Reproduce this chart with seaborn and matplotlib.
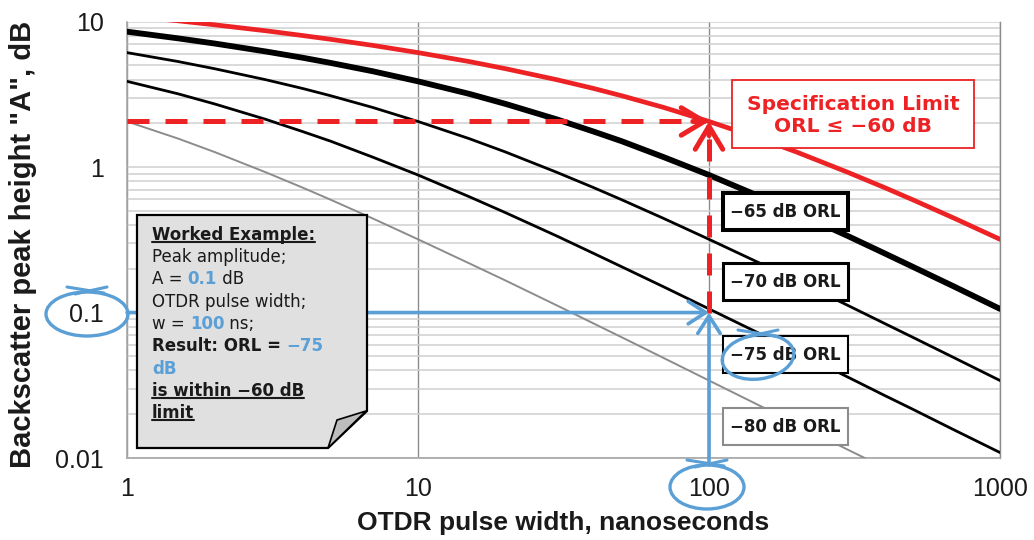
import numpy as np
import matplotlib
matplotlib.use("Agg")
import matplotlib.pyplot as plt
import matplotlib.ticker as mtick
import matplotlib.transforms as mtrans
from matplotlib.patches import Rectangle, Polygon, Ellipse
from matplotlib.lines import Line2D
import seaborn as sns

# ── Data ────────────────────────────────────────────────────
pulse_ns = [1, 1.5, 2, 3, 4, 5, 7, 10, 15, 20, 30, 40, 50, 70,
            100, 150, 200, 300, 400, 500, 700, 1000]
spec_60 = [11.0, 10.14, 9.52, 8.66, 8.04, 7.57, 6.87, 6.13, 5.32, 4.75, 3.99, 3.48, 3.10, 2.57,
           2.06, 1.57, 1.27, 0.921, 0.725, 0.598, 0.443, 0.319]
orl_65 = [8.54, 7.68, 7.08, 6.24, 5.66, 5.21, 4.56, 3.89, 3.19, 2.72, 2.13, 1.76, 1.51, 1.17,
          0.883, 0.626, 0.486, 0.336, 0.256, 0.207, 0.150, 0.106]
orl_70 = [6.13, 5.32, 4.75, 3.99, 3.48, 3.10, 2.57, 2.06, 1.57, 1.27, 0.921, 0.725, 0.598, 0.443,
          0.319, 0.218, 0.166, 0.112, 0.0844, 0.0678, 0.0486, 0.0341]
orl_75 = [3.89, 3.19, 2.72, 2.13, 1.76, 1.51, 1.17, 0.883, 0.626, 0.486, 0.336, 0.256, 0.207, 0.150,
          0.106, 0.0714, 0.0538, 0.0360, 0.0270, 0.0217, 0.0155, 0.0109]
orl_80 = [2.06, 1.57, 1.27, 0.921, 0.725, 0.598, 0.443, 0.319, 0.218, 0.166, 0.112, 0.0844, 0.0678, 0.0486,
          0.0341, 0.0228, 0.0171, 0.0114, 0.0086, 0.0069, 0.0049, 0.0034]

x_ticks = [1, 10, 100, 1000]
x_tick_labels = ['1', '10', '100', '1000']
y_ticks = [0.01, 0.1, 1, 10]
y_tick_labels = ['0.01', '0.1', '1', '10']

worked_w = 100      # ns
worked_A = 0.1      # dB
spec_at_w = 2.06    # red curve height at 100 ns

RED = '#ED2224'
BLUE = '#5A9FD6'
GRAY = '#8c8c8c'
INK = '#1a1a1a'

sns.set_style('white')
plt.rcParams['font.family'] = ['Liberation Sans', 'DejaVu Sans']

W, H = 1034, 540
fig = plt.figure(figsize=(W / 100, H / 100), dpi=100)
ax = fig.add_axes([127 / W, 1 - 458 / H, 873 / W, (458 - 21.7) / H])
ax.set(xscale='log', yscale='log')

# pixel coords (origin top-left) for the call-out decorations
PX = mtrans.Affine2D().scale(1 / W, -1 / H).translate(0, 1) + fig.transFigure

# ── Curves ──────────────────────────────────────────────────
series = [
    (orl_80, GRAY, 1.4, 3),
    (orl_75, 'black', 2.0, 3),
    (orl_70, 'black', 2.0, 3),
    (orl_65, 'black', 4.2, 3),
    (spec_60, RED, 3.4, 3.5),
]
for vals, color, lw, z in series:
    sns.lineplot(x=pulse_ns, y=vals, ax=ax, color=color, linewidth=lw,
                 estimator=None, zorder=z)

ax.set_xlim(1, 1000)
ax.set_ylim(0.01, 10)

# ── Axes styling ────────────────────────────────────────────
ax.set_xticks(x_ticks, labels=x_tick_labels)
ax.set_yticks(y_ticks, labels=y_tick_labels)
ax.xaxis.set_minor_locator(mtick.LogLocator(subs=np.arange(2, 10)))
ax.yaxis.set_minor_locator(mtick.LogLocator(subs=np.arange(2, 10)))
ax.xaxis.set_minor_formatter(mtick.NullFormatter())
ax.yaxis.set_minor_formatter(mtick.NullFormatter())

ax.set_axisbelow(True)
ax.grid(which='both', axis='y', color='#d0d0d0', lw=1.1)
ax.grid(which='major', axis='x', color=GRAY, lw=1.0)
ax.grid(which='minor', axis='x', visible=False)

ax.tick_params(axis='x', which='major', direction='out', length=5.8, width=1,
               color=GRAY, pad=8, labelsize=18, labelcolor=INK)
ax.tick_params(axis='x', which='minor', direction='in', length=3.6, width=1, color=GRAY)
ax.tick_params(axis='y', which='major', direction='out', length=5.8, width=1,
               color=GRAY, pad=11, labelsize=18, labelcolor=INK)
ax.tick_params(axis='y', which='minor', direction='out', length=2.2, width=1, color=GRAY)

for side in ['left', 'bottom']:
    ax.spines[side].set_color('#a6a6a6')
    ax.spines[side].set_linewidth(1.2)
ax.spines['right'].set_color(GRAY)
ax.spines['right'].set_linewidth(1.0)
ax.spines['top'].set_visible(False)

ax.set_xlabel('OTDR pulse width, nanoseconds', fontsize=19, fontweight='bold',
              color=INK, va='center')
ax.xaxis.set_label_coords(0.5, -0.149)
ax.set_ylabel('Backscatter peak height "A", dB', fontsize=21, fontweight='bold',
              color=INK, va='center')
ax.yaxis.set_label_coords(-0.119, 0.49)

# ── Worked example arrows ───────────────────────────────────
dash = (4.4, 3.2)
ax.plot([1, worked_w * 0.92], [spec_at_w, spec_at_w], color=RED, lw=3.6,
        dashes=dash, zorder=4)
ax.plot([worked_w, worked_w], [worked_A, spec_at_w * 0.9], color=RED, lw=3.6,
        dashes=dash, zorder=4)
red_head = dict(arrowstyle='->,head_length=0.75,head_width=0.45', color=RED,
                lw=3.6, shrinkA=0, shrinkB=0, mutation_scale=22)
ax.annotate('', xy=(worked_w, spec_at_w), xytext=(worked_w * 0.88, spec_at_w),
            arrowprops=red_head, zorder=4)
ax.annotate('', xy=(worked_w, spec_at_w), xytext=(worked_w, spec_at_w * 0.8),
            arrowprops=red_head, zorder=4)

blue_head = dict(arrowstyle='->,head_length=0.7,head_width=0.45', color=BLUE,
                 lw=2.6, shrinkA=0, shrinkB=0, mutation_scale=18)
ax.annotate('', xy=(worked_w, worked_A), xytext=(1, worked_A),
            arrowprops=blue_head, zorder=4)
ax.annotate('', xy=(worked_w, worked_A), xytext=(worked_w, -0.016),
            textcoords=('data', 'axes fraction'), arrowprops=blue_head,
            zorder=4, annotation_clip=False)

# ── Spec limit call-out ─────────────────────────────────────
ax.add_patch(Rectangle((732, 80), 242, 68, transform=PX, facecolor='white',
                       edgecolor=RED, lw=1.3, zorder=6, clip_on=False))
ax.text(853, 115, 'Specification Limit\nORL ≤ −60 dB', transform=PX,
        ha='center', va='center', color=RED, fontsize=14.5, fontweight='bold',
        family='DejaVu Sans', linespacing=1.2, zorder=7)

# ── ORL labels ──────────────────────────────────────────────
orl_boxes = [
    ('−65 dB ORL', 193, 'black', 2.9),
    ('−70 dB ORL', 263, 'black', 2.2),
    ('−75 dB ORL', 336, 'black', 1.5),
    ('−80 dB ORL', 408, GRAY, 1.5),
]
for label, top, ec, lw in orl_boxes:
    ax.add_patch(Rectangle((723, top), 125, 37, transform=PX, facecolor='white',
                           edgecolor=ec, lw=lw, zorder=6, clip_on=False))
    ax.text(785.5, top + 19, label, transform=PX, ha='center', va='center',
            color=INK, fontsize=12, fontweight='bold', family='DejaVu Sans', zorder=7)

# ── Worked example note ─────────────────────────────────────
ax.add_patch(Polygon([(137, 215), (367, 215), (367, 411), (328, 448), (137, 448)],
                     closed=True, transform=PX, facecolor='#e0e0e0',
                     edgecolor='black', lw=1.6, zorder=6, clip_on=False))
ax.add_patch(Polygon([(328, 448), (337, 420), (366, 411)], closed=True,
                     transform=PX, facecolor='#bdbdbd', edgecolor='black',
                     lw=1.2, zorder=6, clip_on=False))

note_lines = [
    ([('Worked Example:', INK, 'bold')], True),
    ([('Peak amplitude;', INK, 'normal')], False),
    ([('A = ', INK, 'normal'), (f'{worked_A}', BLUE, 'bold'), (' dB', INK, 'normal')], False),
    ([('OTDR pulse width;', INK, 'normal')], False),
    ([('w = ', INK, 'normal'), (f'{worked_w}', BLUE, 'bold'), (' ns;', INK, 'normal')], False),
    ([('Result: ORL = ', INK, 'bold'), ('−75', BLUE, 'bold')], False),
    ([('dB', BLUE, 'bold')], False),
    ([('is within −60 dB', INK, 'bold')], True),
    ([('limit', INK, 'bold')], True),
]
underlined = []
for i, (parts, ul) in enumerate(note_lines):
    base = 240 + 22.25 * i
    txt, col, wt = parts[0]
    t = ax.text(152, base, txt, transform=PX, ha='left', va='baseline',
                color=col, fontweight=wt, fontsize=12, family='DejaVu Sans', zorder=7)
    for txt, col, wt in parts[1:]:
        t = ax.annotate(txt, xy=(1, 0), xycoords=t, ha='left', va='bottom',
                        color=col, fontweight=wt, fontsize=12,
                        family='DejaVu Sans', zorder=7, annotation_clip=False)
    if ul:
        underlined.append(t)

# ── Hand-drawn blue circles ─────────────────────────────────
circles = [((87, 314), 82, 44, 0), ((707, 487), 74, 44, 0), ((758, 357), 72, 44, -8)]
for (cx, cy), w, h, ang in circles:
    ax.add_patch(Ellipse((cx, cy), w, h, angle=ang, transform=PX, fill=False,
                         edgecolor=BLUE, lw=2.4, zorder=8, clip_on=False))
    ax.add_line(Line2D([cx - 20, cx + 17], [cy - h / 2 - 5, cy - h / 2 + 1],
                       transform=PX, color=BLUE, lw=2.2, zorder=8, clip_on=False))
    ax.add_line(Line2D([cx - 12, cx + 20], [cy - h / 2 + 2, cy - h / 2 - 5],
                       transform=PX, color=BLUE, lw=2.2, zorder=8, clip_on=False))

# underline the bold note lines once the text extents are known
fig.canvas.draw()
for t in underlined:
    bb = t.get_window_extent()
    y = bb.y0 + 2.0
    fig.add_artist(Line2D([152 / W * fig.bbox.width, bb.x1], [y, y],
                          transform=mtrans.IdentityTransform(),
                          color=INK, lw=1.5, zorder=9))

fig.savefig('out.png', dpi=100)
